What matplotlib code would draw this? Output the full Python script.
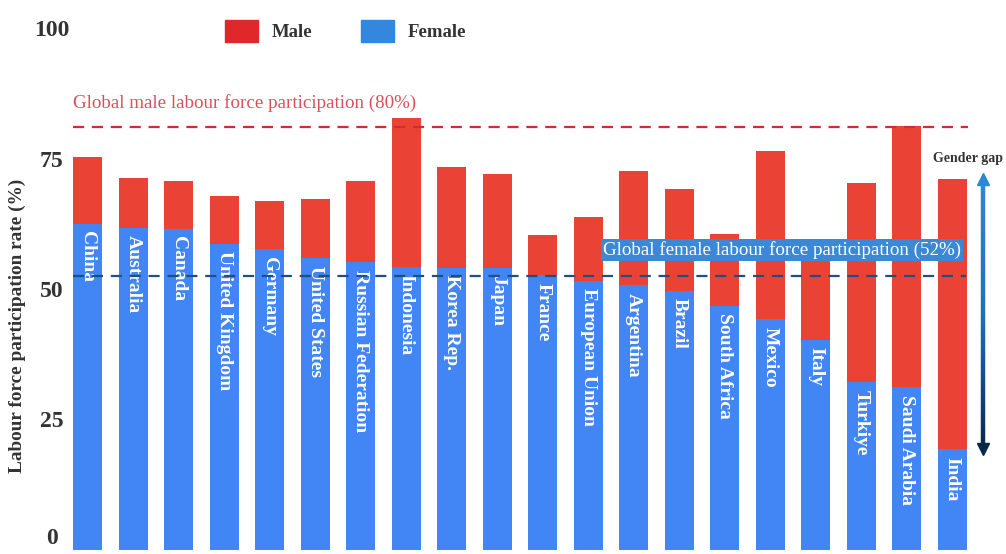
import numpy as np
import matplotlib.pyplot as plt
from matplotlib.patches import Patch
from matplotlib.collections import LineCollection
from matplotlib.colors import LinearSegmentedColormap

plt.rcParams['font.family'] = ['Liberation Serif', 'DejaVu Serif']

countries = ['China', 'Australia', 'Canada', 'United Kingdom', 'Germany', 'United States',
             'Russian Federation', 'Indonesia', 'Korea Rep.', 'Japan', 'France', 'European Union',
             'Argentina', 'Brazil', 'South Africa', 'Mexico', 'Italy', 'Turkiye', 'Saudi Arabia', 'India']
male = [75.3, 71.4, 70.7, 67.9, 66.9, 67.3, 70.7, 82.8, 73.4, 72.0, 60.4, 63.9,
        72.6, 69.1, 60.6, 76.5, 58.5, 70.3, 81.3, 71.1]
female = [62.5, 61.8, 61.6, 58.7, 57.6, 55.9, 55.1, 54.3, 54.0, 54.0, 52.6, 51.5,
          50.7, 49.6, 46.7, 44.2, 40.3, 32.1, 31.1, 19.2]
male_global = 81
female_global = 52.5
yticks = [0, 25, 50, 75, 100]

RED = '#ea4335'
BLUE = '#4285f4'
GREY = '#333333'

fig = plt.figure(figsize=(10.06, 5.54), dpi=100)
ax = fig.add_axes([65 / 1006, 4.5 / 554, 910 / 1006, 521 / 554])

x = np.arange(len(countries))
ax.bar(x, male, width=0.64, color=RED, zorder=2)
ax.bar(x, female, width=0.64, color=BLUE, zorder=3)

for xi, name, f in zip(x, countries, female):
    ax.text(xi, f - 1.4, name, rotation=270, ha='center', va='top', color='white',
            fontsize=14, fontweight='bold', zorder=4)

# reference lines
ax.hlines(male_global, -0.33, 19.35, colors='#d42a36', linestyles=(0, (5, 3.5)), lw=1.6, zorder=5)
ax.hlines(female_global, -0.33, 19.3, colors='#1d4f80', linestyles=(0, (5, 3.5)), lw=1.6, zorder=5)
ax.text(-0.33, male_global + 3.0, 'Global male labour force participation (80%)', color='#d9505a',
        fontsize=13.7, ha='left', va='bottom', zorder=6)
ax.text(11.33, female_global + 5.0, 'Global female labour force participation (52%)', color='white',
        fontsize=13.7, ha='left', va='center', zorder=6,
        bbox=dict(boxstyle='square,pad=0.1', fc='#3a88d6', ec='none'))

# gender gap arrow
gx = 19.68
gap_cmap = LinearSegmentedColormap.from_list('gap', ['#0b2747', '#1f6fbf', '#2d86d6'])
ys = np.linspace(female[-1], male[-1], 100)
segs = [[(gx, ys[i]), (gx, ys[i + 1])] for i in range(len(ys) - 1)]
lc = LineCollection(segs, cmap=gap_cmap, linewidths=3.2, clip_on=False, zorder=6)
lc.set_array(np.linspace(0, 1, len(segs)))
ax.add_collection(lc)
ax.plot(gx, male[-1], marker='^', ms=8, color='#2d86d6', clip_on=False, zorder=7)
ax.plot(gx, female[-1], marker='v', ms=8, color='#0b2747', clip_on=False, zorder=7)
fig.text(1003 / 1006, 1 - 158 / 554, 'Gender gap', fontsize=10, fontweight='bold', color=GREY,
         ha='right', va='center')

ax.set_xlim(-0.5, 19.5)
ax.set_ylim(0, 100)
ax.set_xticks([])
ax.set_yticks(yticks)
ax.set_yticklabels([str(t) for t in yticks], fontsize=17, fontweight='bold', color=GREY, ha='center')
ax.tick_params(axis='y', length=0, pad=9.5)
ax.get_yticklabels()[0].set_va('bottom')
for s in ax.spines.values():
    s.set_visible(False)

fig.text(17 / 1006, 228 / 554, 'Labour force participation rate (%)', rotation=90, ha='center', va='center',
         fontsize=13.9, fontweight='bold', color=GREY)

handles = [Patch(color='#e0282b', label='Male'), Patch(color='#3387dd', label='Female')]
leg = fig.legend(handles=handles, loc='center left', bbox_to_anchor=(208 / 1006, 1 - 31 / 554), ncol=2,
                 frameon=False, handlelength=1.75, handleheight=1.4, columnspacing=2.6, handletextpad=0.75,
                 prop=dict(size=13.5, weight='bold'))
for t in leg.get_texts():
    t.set_color(GREY)

fig.savefig('out.png', dpi=100)
